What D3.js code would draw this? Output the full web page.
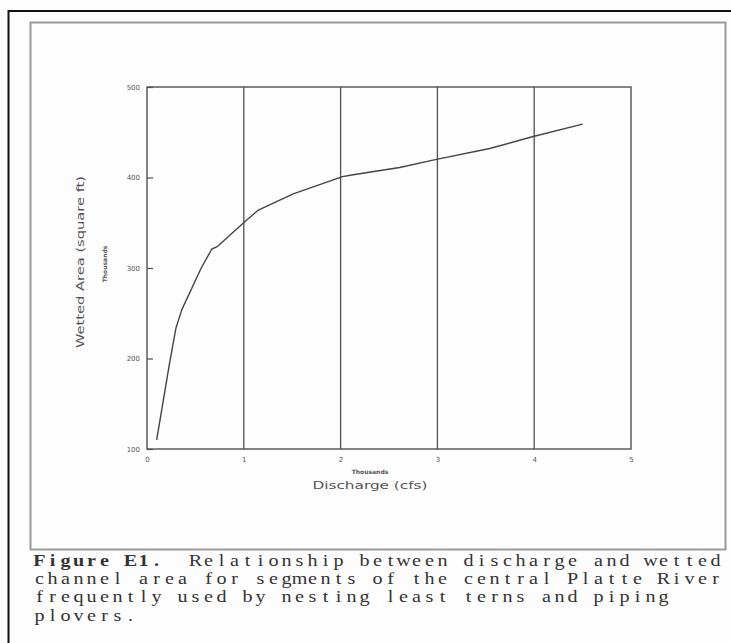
<!DOCTYPE html>
<html>
<head>
<meta charset="utf-8">
<script src="https://cdn.jsdelivr.net/npm/d3@7"></script>
<style>
  html, body { margin: 0; padding: 0; background: #fdfdfd; }
  svg { display: block; }
</style>
</head>
<body>
<svg id="fig" width="731" height="643"></svg>
<script>
// Discharge (thousand cfs) and wetted channel area (thousand sq ft)
const discharge = [0.10, 0.23, 0.30, 0.36, 0.56, 0.67, 0.73, 1.01, 1.15, 1.51, 2.02, 2.13, 2.61, 2.99, 3.54, 3.98, 4.50];
const wettedArea = [110, 193, 234, 254, 300, 321, 324, 351, 364, 382, 401, 403, 411, 420, 432, 445, 459];

const xTicks = [0, 1, 2, 3, 4, 5];
const yTicks = [100, 200, 300, 400, 500];
const gridTicks = [1, 2, 3, 4];

const xTitle = "Discharge (cfs)";
const yTitle = "Wetted Area (square ft)";
const unitLabel = "Thousands";
const captionLines = [
  ["Figure E1.", "  Relationship between discharge and wetted"],
  ["", "channel area for segments of the central Platte River"],
  ["", "frequently used by nesting least terns and piping"],
  ["", "plovers."]
];

const svg = d3.select("#fig");

// page frames
svg.append("line").attr("x1", 8).attr("x2", 731).attr("y1", 11).attr("y2", 11)
  .attr("stroke", "#111").attr("stroke-width", 2);
svg.append("line").attr("x1", 8.5).attr("x2", 8.5).attr("y1", 10).attr("y2", 643)
  .attr("stroke", "#111").attr("stroke-width", 2);
svg.append("rect").attr("x", 30.5).attr("y", 22.5).attr("width", 695).attr("height", 527)
  .attr("fill", "none").attr("stroke", "#9a9a9a").attr("stroke-width", 2);

const plot = { left: 147, right: 631, top: 87, bottom: 449 };
const x = d3.scaleLinear().domain([0, 5]).range([plot.left, plot.right]);
const y = d3.scaleLinear().domain([100, 500]).range([plot.bottom, plot.top]);

const ink = "#505050";
const tickFont = "'DejaVu Sans', sans-serif";

// vertical grid lines
svg.append("g").selectAll("line").data(gridTicks).join("line")
  .attr("x1", d => x(d)).attr("x2", d => x(d))
  .attr("y1", plot.top).attr("y2", plot.bottom)
  .attr("stroke", ink).attr("stroke-width", 1.3);

// y axis (inward ticks)
const yAxis = svg.append("g").attr("transform", `translate(${plot.left},0)`)
  .call(d3.axisLeft(y).tickValues(yTicks).tickSize(-6).tickPadding(7).tickFormat(d3.format("d")));
yAxis.select(".domain").remove();
yAxis.selectAll("line").attr("stroke", ink).attr("stroke-width", 1.2);
yAxis.selectAll("text").attr("font-family", tickFont).attr("font-size", 7)
  .attr("fill", "#555");

// x axis
const xAxis = svg.append("g").attr("transform", `translate(0,${plot.bottom})`)
  .call(d3.axisBottom(x).tickValues(xTicks).tickSize(0).tickPadding(8).tickFormat(d3.format("d")));
xAxis.select(".domain").remove();
xAxis.selectAll("text").attr("font-family", tickFont).attr("font-size", 7)
  .attr("fill", "#555");

// plot frame
svg.append("rect").attr("x", plot.left).attr("y", plot.top)
  .attr("width", plot.right - plot.left).attr("height", plot.bottom - plot.top)
  .attr("fill", "none").attr("stroke", ink).attr("stroke-width", 1.4);

// curve
const pts = discharge.map((d, i) => [d, wettedArea[i]]);
svg.append("path").datum(pts)
  .attr("fill", "none").attr("stroke", "#444").attr("stroke-width", 1.4)
  .attr("stroke-linejoin", "round")
  .attr("d", d3.line().x(d => x(d[0])).y(d => y(d[1])));

// axis titles
svg.append("text").attr("x", 370).attr("y", 474).attr("text-anchor", "middle")
  .attr("font-family", tickFont).attr("font-size", 6).attr("font-weight", "bold")
  .attr("fill", "#555").text(unitLabel);
svg.append("text").attr("x", 370).attr("y", 489).attr("text-anchor", "middle")
  .attr("font-family", tickFont).attr("font-size", 11).attr("fill", "#555")
  .attr("textLength", 115).attr("lengthAdjust", "spacingAndGlyphs").text(xTitle);

svg.append("text").attr("transform", "translate(84,262) rotate(-90)")
  .attr("text-anchor", "middle").attr("font-family", tickFont).attr("font-size", 11)
  .attr("fill", "#555").attr("textLength", 172).attr("lengthAdjust", "spacingAndGlyphs")
  .text(yTitle);
svg.append("text").attr("transform", "translate(107,264) rotate(-90)")
  .attr("text-anchor", "middle").attr("font-family", tickFont).attr("font-size", 6)
  .attr("font-weight", "bold").attr("fill", "#555").text(unitLabel);

// caption: typewriter-style, each character centred in a fixed 13px cell
const stretch = 1.15, cell = 13 / stretch;
const cap = svg.append("g").attr("transform", `translate(33,0) scale(${stretch},1)`)
  .attr("font-family", "'Liberation Serif', 'Times New Roman', serif")
  .attr("font-size", 17.5).attr("fill", "#333").attr("text-anchor", "middle");
const cellXs = (start, n) => d3.range(n).map(k => ((start + k + 0.5) * cell).toFixed(2)).join(" ");
captionLines.forEach((parts, i) => {
  const t = cap.append("text").attr("y", 566 + i * 18.2).attr("xml:space", "preserve");
  if (parts[0]) {
    t.append("tspan").attr("x", cellXs(0, parts[0].length))
      .attr("font-weight", "bold").text(parts[0]);
  }
  t.append("tspan").attr("x", cellXs(parts[0].length, parts[1].length)).text(parts[1]);
});
</script>
</body>
</html>
